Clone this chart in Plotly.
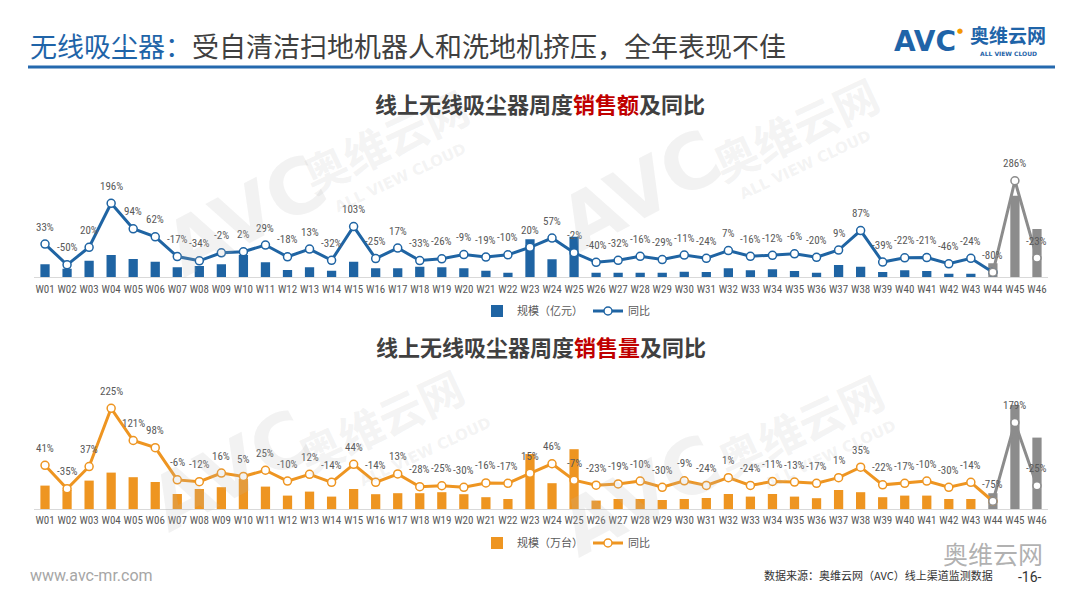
import plotly.graph_objects as go

# ---------------- data ----------------
weeks = ["W01", "W02", "W03", "W04", "W05", "W06", "W07", "W08", "W09", "W10",
         "W11", "W12", "W13", "W14", "W15", "W16", "W17", "W18", "W19", "W20",
         "W21", "W22", "W23", "W24", "W25", "W26", "W27", "W28", "W29", "W30",
         "W31", "W32", "W33", "W34", "W35", "W36", "W37", "W38", "W39", "W40",
         "W41", "W42", "W43", "W44", "W45", "W46"]

# 销售额 规模（亿元）
sales_value = [1.30, 0.86, 1.66, 2.23, 1.83, 1.56, 1.00, 1.13, 1.30, 2.23,
               1.50, 0.73, 1.00, 0.66, 1.56, 0.90, 0.90, 1.06, 1.00, 0.90,
               0.66, 0.46, 3.80, 1.80, 4.06, 0.46, 0.46, 0.46, 0.46, 0.56,
               0.53, 0.90, 0.70, 0.80, 0.63, 0.46, 1.23, 1.06, 0.53, 0.70,
               0.63, 0.36, 0.36, 1.40, 8.16, 4.83]
# 销售额 同比（%）
value_yoy = [33, -50, 20, 196, 94, 62, -17, -34, -2, 2,
             29, -18, 13, -32, 103, -25, 17, -33, -26, -9,
             -19, -10, 20, 57, -2, -40, -32, -16, -29, -11,
             -24, 7, -16, -12, -6, -20, 9, 87, -39, -22,
             -21, -46, -24, -80, 286, -23]

# 销售量 规模（万台）
sales_volume = [11.7, 9.5, 14.2, 18.2, 15.9, 13.5, 7.5, 10.0, 10.9, 15.0,
                11.2, 6.7, 8.7, 6.2, 10.0, 7.4, 7.9, 7.9, 8.4, 7.4,
                5.9, 5.0, 27.5, 12.9, 29.9, 4.2, 5.0, 5.0, 4.5, 5.0,
                5.5, 7.5, 6.2, 7.5, 6.2, 5.4, 9.5, 8.4, 5.9, 6.7,
                6.7, 5.0, 5.0, 7.9, 52.0, 35.7]
# 销售量 同比（%）
volume_yoy = [41, -35, 37, 225, 121, 98, -6, -12, 16, 5,
              25, -10, 12, -14, 44, -14, 13, -28, -25, -30,
              -16, -17, 15, 46, -7, -23, -19, -10, -30, -9,
              -24, 1, -24, -11, -13, -17, 1, 35, -22, -17,
              -10, -30, -14, -75, 179, -25]

N_ACTUAL = 43  # W01-W43 actual colours, W44-W46 grey

BLUE = "#1F64A3"
ORANGE = "#EE9521"
GREY = "#8C8C8C"
TXT = "#595959"
NARROW = "Liberation Sans Narrow, Arial Narrow, Roboto Condensed, Roboto, sans-serif"
CJK = "Noto Sans CJK SC, Noto Sans, sans-serif"

W, H = 1080, 608


def py(p):
    return 1 - p / H


def paper_text(x, y, text, font, xanchor="center", yanchor="middle", angle=0):
    return dict(x=x / W, y=py(y), xref="paper", yref="paper", text=text, showarrow=False,
                xanchor=xanchor, yanchor=yanchor, textangle=angle, font=font)


fig = go.Figure()

# ---------------- chart 1: 销售额 ----------------
fig.add_trace(go.Bar(
    x=weeks, y=sales_value, name="规模（亿元）",
    marker=dict(color=[BLUE] * N_ACTUAL + [GREY] * (len(weeks) - N_ACTUAL), line=dict(width=0)),
    xaxis="x", yaxis="y", legend="legend", legendrank=1))
fig.add_trace(go.Scatter(
    x=weeks[:N_ACTUAL + 1], y=value_yoy[:N_ACTUAL + 1], name="同比", mode="lines+markers",
    line=dict(color=BLUE, width=3),
    marker=dict(size=8, color="white", line=dict(color=BLUE, width=1.5)),
    xaxis="x", yaxis="y2", legend="legend", legendrank=2))
fig.add_trace(go.Scatter(
    x=weeks[N_ACTUAL:], y=value_yoy[N_ACTUAL:], mode="lines+markers", showlegend=False,
    line=dict(color=GREY, width=3),
    marker=dict(size=8, color="white", line=dict(color=GREY, width=1.5)),
    xaxis="x", yaxis="y2"))

# ---------------- chart 2: 销售量 ----------------
fig.add_trace(go.Bar(
    x=weeks, y=sales_volume, name="规模（万台）",
    marker=dict(color=[ORANGE] * N_ACTUAL + [GREY] * (len(weeks) - N_ACTUAL), line=dict(width=0)),
    xaxis="x2", yaxis="y3", legend="legend2", legendrank=1))
fig.add_trace(go.Scatter(
    x=weeks[:N_ACTUAL + 1], y=volume_yoy[:N_ACTUAL + 1], name="同比", mode="lines+markers",
    line=dict(color=ORANGE, width=3),
    marker=dict(size=8, color="white", line=dict(color=ORANGE, width=1.5)),
    xaxis="x2", yaxis="y4", legend="legend2", legendrank=2))
fig.add_trace(go.Scatter(
    x=weeks[N_ACTUAL:], y=volume_yoy[N_ACTUAL:], mode="lines+markers", showlegend=False,
    line=dict(color=GREY, width=3),
    marker=dict(size=8, color="white", line=dict(color=GREY, width=1.5)),
    xaxis="x2", yaxis="y4"))

annotations = []
for wk, v in zip(weeks, value_yoy):
    annotations.append(dict(x=wk, y=v, xref="x", yref="y2", text=f"{v}%", showarrow=False,
                            xanchor="center", yanchor="middle",
                            yshift=17, font=dict(family=NARROW, size=11, color=TXT)))
for wk, v in zip(weeks, volume_yoy):
    annotations.append(dict(x=wk, y=v, xref="x2", yref="y4", text=f"{v}%", showarrow=False,
                            xanchor="center", yanchor="middle",
                            yshift=17, font=dict(family=NARROW, size=11, color=TXT)))

# watermarks
WM = "rgba(185,185,185,0.18)"
for (ax, ay, bx, by, cx, cy) in [(245, 215, 385, 140, 400, 178), (640, 190, 795, 128, 805, 165),
                                 (230, 470, 380, 420, 425, 452), (640, 495, 800, 425, 830, 455)]:
    annotations.append(paper_text(ax, ay, "<b>AVC</b>", dict(family="DejaVu Sans", size=76, color=WM), angle=-28))
    annotations.append(paper_text(bx, by, "<b>奥维云网</b>", dict(family=CJK, size=44, color=WM), angle=-25))
    annotations.append(paper_text(cx, cy, "<b>ALL VIEW CLOUD</b>", dict(family="DejaVu Sans", size=15, color=WM), angle=-25))

# header title
annotations.append(paper_text(28, 45, "<span style='color:#1F64A8'>无线吸尘器：</span>受自清洁扫地机器人和洗地机挤压，全年表现不佳",
                              dict(family=CJK, size=27, color="#404040"), xanchor="left"))
# logo
annotations.append(paper_text(925, 41, "<b>AVC</b>", dict(family="DejaVu Sans", size=28, color="#1F64A8")))
annotations.append(paper_text(960, 31, "●", dict(family="DejaVu Sans", size=7, color="#F39800")))
annotations.append(paper_text(1008, 35, "<b>奥维云网</b>", dict(family=CJK, size=19, color="#1F64A8")))
annotations.append(paper_text(1008, 54, "<b>ALL VIEW CLOUD</b>", dict(family="DejaVu Sans", size=6, color="#1F64A8")))

# chart titles
annotations.append(paper_text(540, 103, "<b>线上无线吸尘器周度<span style='color:#C00000'>销售额</span>及同比</b>",
                              dict(family=CJK, size=22, color="#404040")))
annotations.append(paper_text(541, 346, "<b>线上无线吸尘器周度<span style='color:#C00000'>销售量</span>及同比</b>",
                              dict(family=CJK, size=22, color="#404040")))

# footer
annotations.append(paper_text(28, 575, "www.avc-mr.com",
                              dict(family="Roboto, sans-serif", size=16, color="#A6A6A6"), xanchor="left"))
annotations.append(paper_text(762, 575, "数据来源：奥维云网（AVC）线上渠道监测数据",
                              dict(family=CJK, size=11, color="#333333"), xanchor="left"))
annotations.append(paper_text(1030, 577, "-16-", dict(family="Roboto, sans-serif", size=14, color="#333333")))
annotations.append(paper_text(993, 553, "奥维云网", dict(family=CJK, size=25, color="rgba(110,110,110,0.55)")))

shapes = [dict(type="line", xref="paper", yref="paper", x0=28 / W, x1=1055 / W, y0=py(67), y1=py(67),
               line=dict(color="#2569AE", width=3))]

xdom = [34 / W, 1048 / W]
axis_common = dict(type="category", range=[-0.5, 45.5], showgrid=False, zeroline=False,
                   showline=True, linecolor="#D9D9D9", linewidth=1,
                   ticks="outside", ticklen=1, tickcolor="rgba(0,0,0,0)",
                   tickfont=dict(family=NARROW, size=11, color=TXT), fixedrange=True)
hidden_y = dict(visible=False, showgrid=False, zeroline=False, fixedrange=True)

fig.update_layout(
    width=W, height=H, margin=dict(l=0, r=0, t=0, b=0),
    paper_bgcolor="white", plot_bgcolor="rgba(0,0,0,0)",
    bargap=0.58, barmode="overlay",
    xaxis=dict(domain=xdom, anchor="y", **axis_common),
    yaxis=dict(domain=[py(277.3), py(150)], range=[0, 12.73], **hidden_y),
    yaxis2=dict(overlaying="y", range=[-100, 409], **hidden_y),
    xaxis2=dict(domain=xdom, anchor="y3", **axis_common),
    yaxis3=dict(domain=[py(509), py(390)], range=[0, 59.5], **hidden_y),
    yaxis4=dict(overlaying="y3", range=[-100, 284], **hidden_y),
    legend=dict(orientation="h", x=566 / W, y=py(311), xanchor="center", yanchor="middle",
                font=dict(family=CJK, size=11, color=TXT), bgcolor="rgba(0,0,0,0)"),
    legend2=dict(orientation="h", x=566 / W, y=py(543), xanchor="center", yanchor="middle",
                 font=dict(family=CJK, size=11, color=TXT), bgcolor="rgba(0,0,0,0)"),
    annotations=annotations, shapes=shapes, showlegend=True,
)

fig.write_html("out.html")
